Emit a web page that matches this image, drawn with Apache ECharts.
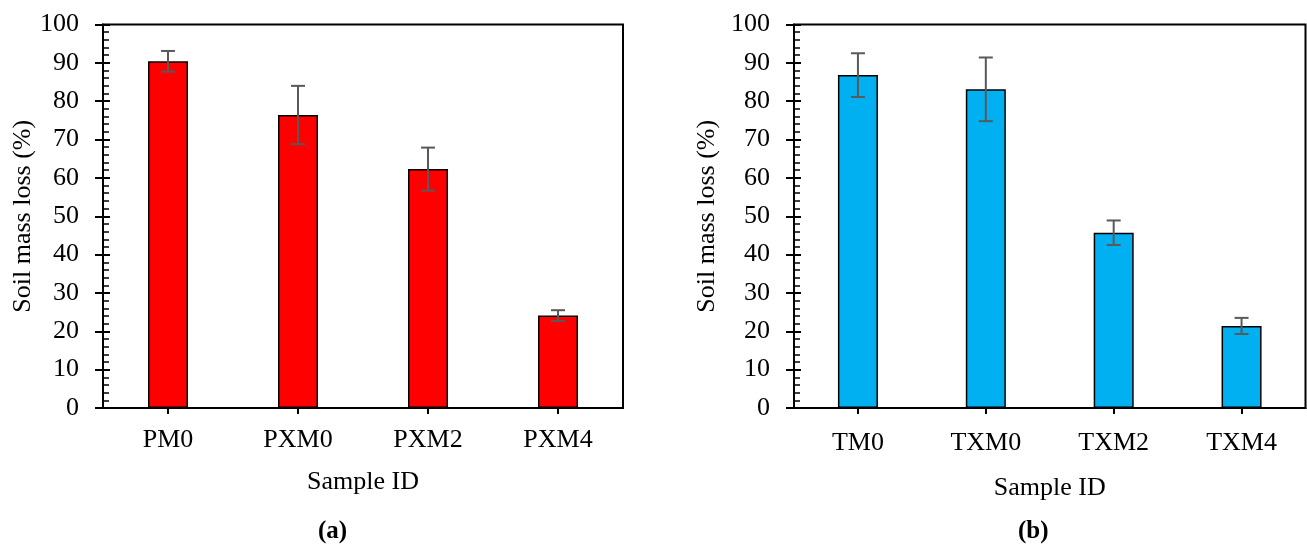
<!DOCTYPE html>
<html>
<head>
<meta charset="utf-8">
<script src="https://cdn.jsdelivr.net/npm/echarts@6/dist/echarts.min.js"></script>
<style>
html,body{margin:0;padding:0;background:#fff;}
#c{width:1307px;height:547px;}
</style>
</head>
<body>
<div id="c"></div>
<script>
// ---- data ----
const catsA = ['PM0', 'PXM0', 'PXM2', 'PXM4'];
const valsA = [90.4, 76.4, 62.3, 24.1];
const errA  = [2.7, 7.6, 5.6, 1.4];

const catsB = ['TM0', 'TXM0', 'TXM2', 'TXM4'];
const valsB = [86.8, 83.1, 45.7, 21.4];
const errB  = [5.7, 8.3, 3.2, 2.1];

const yTicks = [0, 10, 20, 30, 40, 50, 60, 70, 80, 90, 100];
const yTitle = 'Soil mass loss (%)';
const xTitle = 'Sample ID';
const panelLabels = ['(a)', '(b)'];

// ---- styling ----
const FONT = "'Liberation Serif','Times New Roman',serif";
const chart = echarts.init(document.getElementById('c'));

function errData(vals, errs) {
  return vals.map((v, i) => [i, v - errs[i], v + errs[i]]);
}
function errRender(params, api) {
  const lo = api.coord([api.value(0), api.value(1)]);
  const hi = api.coord([api.value(0), api.value(2)]);
  const hw = 7;
  const st = { stroke: '#595959', lineWidth: 2 };
  return {
    type: 'group',
    children: [
      { type: 'line', shape: { x1: hi[0], y1: hi[1], x2: lo[0], y2: lo[1] }, style: st },
      { type: 'line', shape: { x1: hi[0] - hw, y1: hi[1], x2: hi[0] + hw, y2: hi[1] }, style: st },
      { type: 'line', shape: { x1: lo[0] - hw, y1: lo[1], x2: lo[0] + hw, y2: lo[1] }, style: st }
    ]
  };
}

const yMin = yTicks[0], yMax = yTicks[yTicks.length - 1], yStep = yTicks[1] - yTicks[0];

function yAxesFor(gridIndex, nameGap) {
  return [
    {
      gridIndex, type: 'value', min: yMin, max: yMax, interval: yStep, position: 'left',
      name: yTitle, nameLocation: 'middle', nameGap: nameGap,
      nameTextStyle: { fontFamily: FONT, fontSize: 26, color: '#000' },
      axisLine: { show: true, lineStyle: { color: '#000', width: 2 } },
      axisTick: { show: true, inside: false, length: 8, lineStyle: { color: '#000', width: 2 } },
      axisLabel: { fontFamily: FONT, fontSize: 26, color: '#000', margin: 24 },
      splitLine: { show: false }
    },
    {
      gridIndex, type: 'value', min: yMin, max: yMax, interval: yStep, position: 'left', offset: 0,
      axisLine: { show: false },
      axisTick: { show: true, inside: true, length: 7, lineStyle: { color: '#000', width: 2 } },
      minorTick: { show: true, splitNumber: 5, length: 6, lineStyle: { color: '#000', width: 1.5 } },
      axisLabel: { show: false },
      splitLine: { show: false }
    }
  ];
}
function xAxisFor(gridIndex, cats, margin, nameGap) {
  return {
    gridIndex, type: 'category', data: cats, boundaryGap: true,
    name: xTitle, nameLocation: 'middle', nameGap: nameGap,
    nameTextStyle: { fontFamily: FONT, fontSize: 26, color: '#000' },
    axisLine: { show: true, lineStyle: { color: '#000', width: 2 } },
    axisTick: { show: true, alignWithLabel: true, length: 6, lineStyle: { color: '#000', width: 2 } },
    axisLabel: { fontFamily: FONT, fontSize: 26, color: '#000', margin: margin },
    splitLine: { show: false }
  };
}

const option = {
  backgroundColor: '#fff',
  animation: false,
  grid: [
    { left: 103, right: 684, top: 24.5, bottom: 139, show: true, borderColor: '#000', borderWidth: 2, backgroundColor: 'transparent' },
    { left: 794, right: 1.5, top: 24.5, bottom: 139, show: true, borderColor: '#000', borderWidth: 2, backgroundColor: 'transparent' }
  ],
  xAxis: [xAxisFor(0, catsA, 19, 61), xAxisFor(1, catsB, 22, 67)],
  yAxis: [...yAxesFor(0, 66), ...yAxesFor(1, 74)],
  graphic: [
    { type: 'text', left: 318, top: 519, style: { text: panelLabels[0], font: "bold 25px 'Liberation Serif','Times New Roman',serif", fill: '#000' } },
    { type: 'text', left: 1018, top: 519, style: { text: panelLabels[1], font: "bold 25px 'Liberation Serif','Times New Roman',serif", fill: '#000' } }
  ],
  series: [
    { type: 'bar', xAxisIndex: 0, yAxisIndex: 0, data: valsA, barWidth: 40,
      itemStyle: { color: '#FF0000', borderColor: '#000', borderWidth: 1.5 } },
    { type: 'custom', xAxisIndex: 0, yAxisIndex: 0, data: errData(valsA, errA), renderItem: errRender, z: 5 },
    { type: 'bar', xAxisIndex: 1, yAxisIndex: 2, data: valsB, barWidth: 40,
      itemStyle: { color: '#00B0F0', borderColor: '#000', borderWidth: 1.5 } },
    { type: 'custom', xAxisIndex: 1, yAxisIndex: 2, data: errData(valsB, errB), renderItem: errRender, z: 5 }
  ]
};
chart.setOption(option);
</script>
</body>
</html>
